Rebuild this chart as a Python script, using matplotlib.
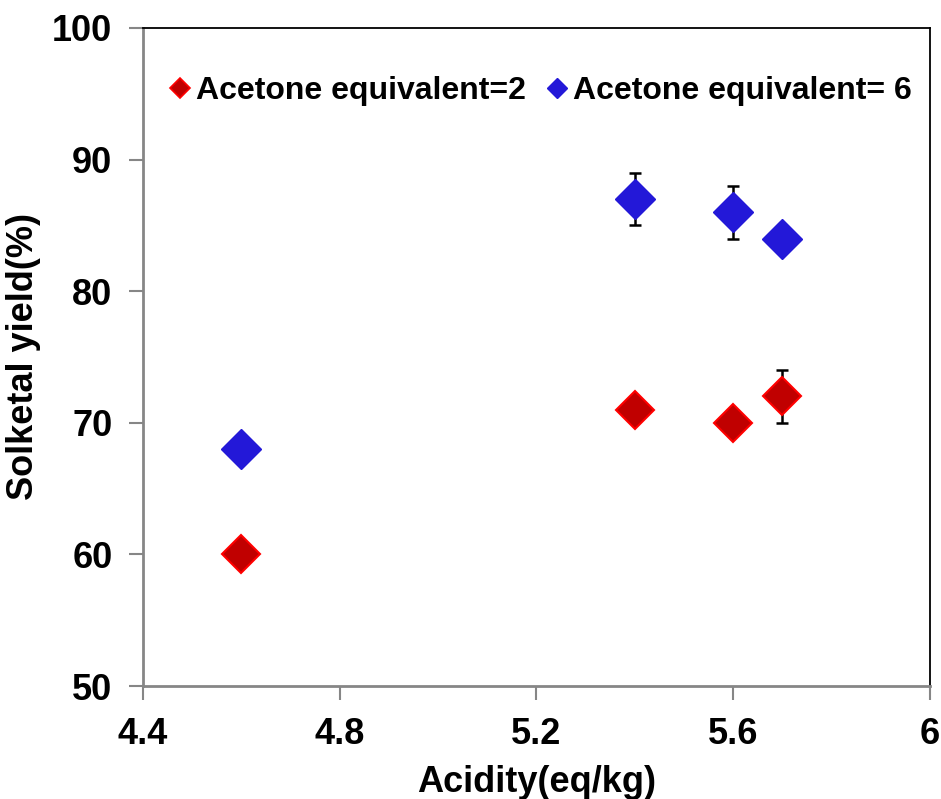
import matplotlib
matplotlib.use("Agg")
import matplotlib.pyplot as plt

plt.rcParams['font.family'] = ['Liberation Sans', 'DejaVu Sans']
plt.rcParams['font.weight'] = 'bold'

# Acidity of the catalysts (eq/kg)
acidity = [4.6, 5.4, 5.6, 5.7]

# Solketal yield (%) and error for each acetone equivalent
yield_eq2 = [60, 71, 70, 72]
err_eq2 = [0.5, 0.5, 0.5, 2]
yield_eq6 = [68, 87, 86, 84]
err_eq6 = [0, 2, 2, 0]

label_eq2 = "Acetone equivalent=2"
label_eq6 = "Acetone equivalent= 6"

x_ticks = [4.4, 4.8, 5.2, 5.6, 6.0]
x_tick_labels = ["4.4", "4.8", "5.2", "5.6", "6"]
y_ticks = [50, 60, 70, 80, 90, 100]

fig = plt.figure(figsize=(9.41, 7.99), dpi=100)
ax = fig.add_axes([0.152, 0.1414, 0.836, 0.8236])

ax.errorbar(acidity, yield_eq2, yerr=err_eq2, fmt='none', ecolor='black',
            elinewidth=1.8, capsize=4.5, capthick=1.8, zorder=2)
ax.errorbar(acidity, yield_eq6, yerr=err_eq6, fmt='none', ecolor='black',
            elinewidth=1.8, capsize=4.5, capthick=1.8, zorder=2)

ax.plot(acidity, yield_eq2, linestyle='none', marker='D', markersize=19.5,
        markerfacecolor='#C00000', markeredgecolor='#FF0000',
        markeredgewidth=1.5, zorder=3)
ax.plot(acidity, yield_eq6, linestyle='none', marker='D', markersize=20.5,
        markerfacecolor='#2318D8', markeredgecolor='#2318D8',
        markeredgewidth=1.0, zorder=3)

ax.set_xlim(4.4, 6.0)
ax.set_ylim(50, 100)
ax.set_xticks(x_ticks)
ax.set_xticklabels(x_tick_labels)
ax.set_yticks(y_ticks)

for side in ('left', 'bottom'):
    ax.spines[side].set_color('#868686')
    ax.spines[side].set_linewidth(2.0)
for side in ('top', 'right'):
    ax.spines[side].set_color('black')
    ax.spines[side].set_linewidth(1.3)

ax.tick_params(axis='both', direction='out', length=10, width=1.5,
               color='#868686', labelsize=26, pad=12)
for lbl in ax.get_xticklabels() + ax.get_yticklabels():
    lbl.set_fontweight('bold')

ax.set_xlabel("Acidity(eq/kg)", fontsize=26, fontweight='bold', labelpad=10)
ax.set_ylabel("Solketal yield(%)", fontsize=26, fontweight='bold', labelpad=8)

# legend entries in a single row along the top of the plot area
h2 = ax.plot([], [], linestyle='none', marker='D', markersize=10,
             markerfacecolor='#C00000', markeredgecolor='#FF0000',
             markeredgewidth=1.2)[0]
h6 = ax.plot([], [], linestyle='none', marker='D', markersize=10,
             markerfacecolor='#2318D8', markeredgecolor='#2318D8')[0]
ax.legend([h2, h6], [label_eq2, label_eq6], loc='upper center',
          bbox_to_anchor=(0.502, 0.97), ncol=2, frameon=False,
          prop={'size': 23, 'weight': 'bold'}, handletextpad=0.0,
          columnspacing=0.5, handlelength=1.0)

fig.savefig("out.png", dpi=100)
